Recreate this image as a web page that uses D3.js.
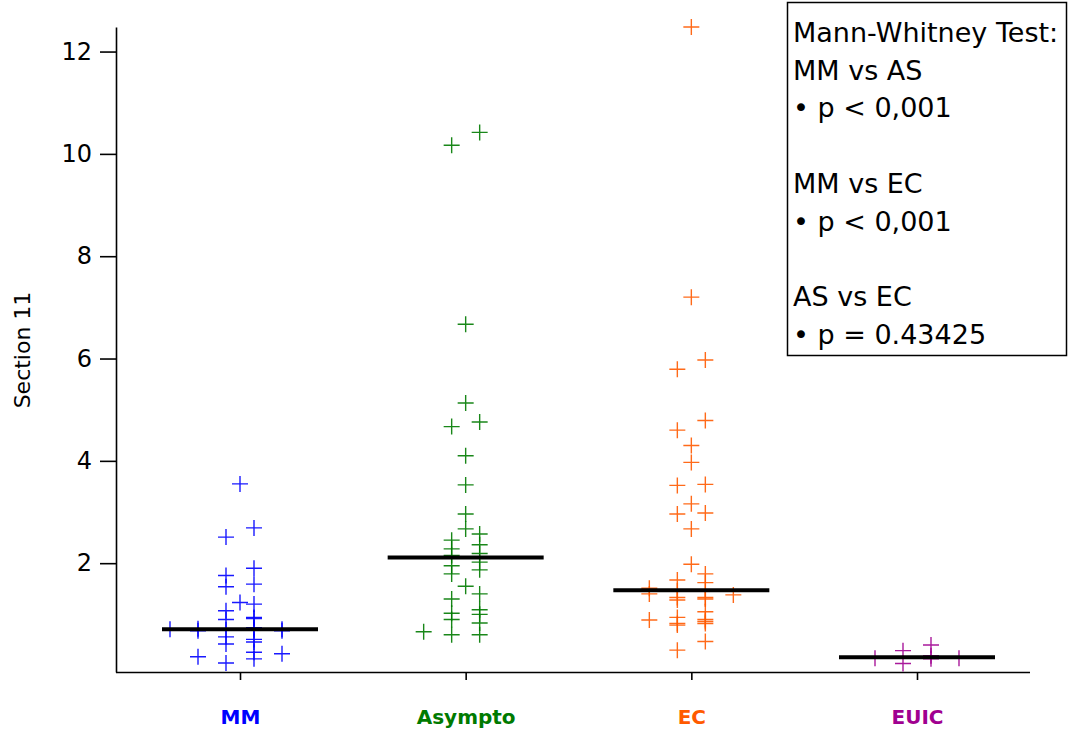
<!DOCTYPE html>
<html>
<head>
<meta charset="utf-8">
<script src="https://cdn.jsdelivr.net/npm/d3@7"></script>
<style>
  body { margin: 0; background: #fff; }
  svg text { font-family: "DejaVu Sans", sans-serif; }
</style>
</head>
<body>
<div id="chart"></div>
<script>
// groups along the x axis
var categories = ['MM', 'Asympto', 'EC', 'EUIC'];
var catColors = ['#0000ff', '#007a00', '#ff5a00', '#a00090'];

// each point: [value, jitter column] (column in units of half a slot)
var mmPoints = [
    [3.55, 0], [2.69, 1], [2.51, -1], [1.90, 1], [1.76, -1], [1.59, 1], [1.54, -1],
    [1.23, 0], [1.20, 1], [1.07, -1], [0.94, 1], [0.92, 1], [0.90, -1],
    [0.71, -5], [0.72, -3], [0.68, -3], [0.70, -1], [0.74, 1], [0.70, 1],
    [0.71, 3], [0.68, 3], [0.56, -1], [0.51, 1], [0.46, 1], [0.42, -1],
    [0.23, 3], [0.26, 1], [0.17, -3], [0.13, 1], [0.05, -1]
];
var asymptoPoints = [
    [10.42, 1], [10.17, -1], [6.67, 0], [5.13, 0], [4.76, 1], [4.67, -1], [4.10, 0],
    [3.53, 0], [2.96, 0], [2.67, 0], [2.57, 1], [2.45, -1], [2.36, 1], [2.28, -1],
    [2.19, 1], [2.15, -1], [2.02, 1], [1.95, -1], [1.87, 1], [1.79, -1], [1.55, 0],
    [1.40, 1], [1.30, -1], [1.09, 1], [1.02, -1], [1.00, 1], [0.90, -1], [0.83, 1],
    [0.66, -3], [0.60, -1], [0.60, 1]
];
var ecPoints = [
    [12.48, 0], [7.20, 0], [5.97, 1], [5.79, -1], [4.79, 1], [4.60, -1], [4.30, 0],
    [3.97, 0], [3.54, 1], [3.52, -1], [3.16, 0], [2.98, 1], [2.96, -1], [2.67, 0],
    [1.98, 0], [1.79, 1], [1.67, -1], [1.62, 1], [1.51, -3], [1.40, -3], [1.46, -1],
    [1.48, 1], [1.38, 3], [1.33, -1], [1.28, -1], [1.33, 1], [1.30, 1], [1.05, 1],
    [0.94, -1], [0.89, -3], [0.90, 1], [0.86, 1], [0.82, 1], [0.82, -1], [0.79, -1],
    [0.47, 1], [0.30, -1]
];
var euicPoints = [
    [0.14, -3], [0.29, -1], [0.04, -1], [0.40, 1], [0.19, 1], [0.13, 1], [0.14, 3]
];
var medians = [0.71, 2.11, 1.47, 0.16];

var yTicks = [2, 4, 6, 8, 10, 12];
var yTitle = 'Section 11';

var legendLines = [
    'Mann-Whitney Test:', 'MM vs AS', '\u2022 p < 0,001', '',
    'MM vs EC', '\u2022 p < 0,001', '',
    'AS vs EC', '\u2022 p = 0.43425'
];

var groups = [mmPoints, asymptoPoints, ecPoints, euicPoints];

var width = 1069, height = 735;
var plot = {left: 116, right: 1030, top: 27, bottom: 672};

var svg = d3.select('#chart').append('svg')
    .attr('width', width)
    .attr('height', height);

var y = d3.scaleLinear()
    .domain([-0.127, 12.48])
    .range([plot.bottom, plot.top]);

var x = d3.scalePoint()
    .domain(categories)
    .range([240, 917]);

// jitter column -> pixel offset
var jitter = d3.scaleLinear().domain([0, 1]).range([0, 14]);

// y axis
var yAxis = d3.axisLeft(y)
    .tickValues(yTicks)
    .tickSize(16)
    .tickSizeOuter(0)
    .tickPadding(8);

var gy = svg.append('g')
    .attr('transform', 'translate(' + plot.left + ',0)')
    .call(yAxis);
gy.selectAll('line, path').attr('stroke', '#000').attr('stroke-width', 1.6);
gy.selectAll('text').attr('font-size', 24).attr('fill', '#000');

// x axis
var xAxis = d3.axisBottom(x)
    .tickSize(8)
    .tickSizeOuter(0)
    .tickPadding(30);

var gx = svg.append('g')
    .attr('transform', 'translate(0,' + plot.bottom + ')')
    .call(xAxis);
gx.select('.domain').attr('d', 'M' + plot.left + ',0.5H' + plot.right);
gx.selectAll('line, path').attr('stroke', '#000').attr('stroke-width', 1.6);
gx.selectAll('text')
    .attr('font-size', 20)
    .attr('font-weight', 'bold')
    .attr('fill', function (d, i) { return catColors[i]; });

// axis title
svg.append('text')
    .attr('transform', 'translate(30,350) rotate(-90)')
    .attr('text-anchor', 'middle')
    .attr('font-size', 22)
    .text(yTitle);

// points drawn as crosses
var arm = 8;
groups.forEach(function (pts, gi) {
    var cx = x(categories[gi]);
    var g = svg.append('g')
        .attr('stroke', catColors[gi])
        .attr('stroke-width', 1.4)
        .attr('stroke-opacity', 0.9);
    g.selectAll('path')
        .data(pts)
        .enter().append('path')
        .attr('d', function (d) {
            var px = cx + jitter(d[1]), py = y(d[0]);
            return 'M' + (px - arm) + ',' + py + 'H' + (px + arm) +
                'M' + px + ',' + (py - arm) + 'V' + (py + arm);
        });
});

// median bars
svg.append('g').selectAll('line')
    .data(medians)
    .enter().append('line')
    .attr('x1', function (d, i) { return x(categories[i]) - 78; })
    .attr('x2', function (d, i) { return x(categories[i]) + 78; })
    .attr('y1', function (d) { return y(d); })
    .attr('y2', function (d) { return y(d); })
    .attr('stroke', '#000')
    .attr('stroke-width', 4);

// stats box
var box = {x: 787, y: 2, w: 279, h: 353};
svg.append('rect')
    .attr('x', box.x + 0.5).attr('y', box.y + 0.5)
    .attr('width', box.w).attr('height', box.h)
    .attr('fill', '#fff')
    .attr('stroke', '#000')
    .attr('stroke-width', 1.5);

svg.append('g').selectAll('text')
    .data(legendLines)
    .enter().append('text')
    .attr('x', box.x + 6)
    .attr('y', function (d, i) { return 42 + i * 37.7; })
    .attr('font-size', 27)
    .attr('fill', '#000')
    .text(function (d) { return d; });
</script>
</body>
</html>
